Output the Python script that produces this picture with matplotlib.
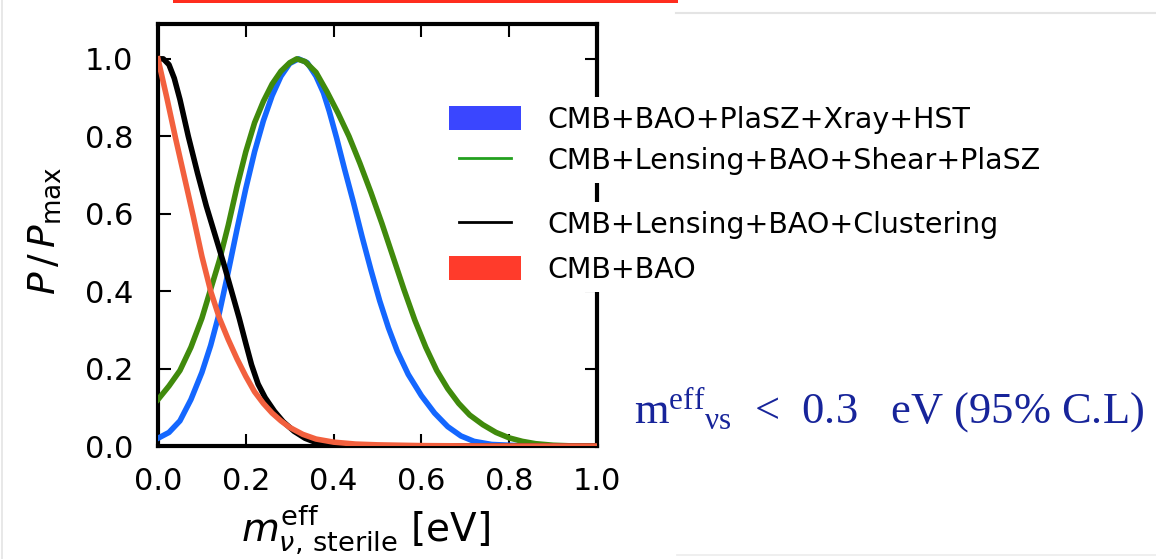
import matplotlib
matplotlib.use("Agg")
import matplotlib.pyplot as plt
from matplotlib.patches import Patch, Rectangle
from matplotlib.lines import Line2D
from matplotlib.legend_handler import HandlerLine2D

# ---------------- data ----------------
x_blue = [0.0, 0.025, 0.05, 0.075, 0.1, 0.12, 0.14, 0.16, 0.18, 0.2, 0.22, 0.24, 0.26, 0.28,
          0.3, 0.32, 0.34, 0.36, 0.377, 0.39, 0.407, 0.425, 0.445, 0.465, 0.485, 0.505, 0.525,
          0.545, 0.57, 0.6, 0.63, 0.66, 0.69, 0.72, 0.76, 0.82, 0.9, 1.0]
y_blue = [0.02, 0.035, 0.065, 0.12, 0.19, 0.26, 0.345, 0.45, 0.56, 0.665, 0.76, 0.84, 0.905,
          0.955, 0.988, 1.0, 0.99, 0.955, 0.912, 0.865, 0.795, 0.715, 0.63, 0.54, 0.455, 0.375,
          0.305, 0.245, 0.185, 0.13, 0.085, 0.05, 0.026, 0.012, 0.004, 0.001, 0.0, 0.0]

x_green = [0.0, 0.025, 0.05, 0.075, 0.1, 0.12, 0.14, 0.16, 0.18, 0.2, 0.22, 0.24, 0.26, 0.28,
           0.3, 0.316, 0.335, 0.36, 0.385, 0.41, 0.435, 0.46, 0.485, 0.51, 0.535, 0.56, 0.585,
           0.61, 0.635, 0.66, 0.685, 0.71, 0.74, 0.77, 0.8, 0.83, 0.86, 0.9, 0.95, 1.0]
y_green = [0.12, 0.155, 0.195, 0.255, 0.33, 0.405, 0.48, 0.57, 0.67, 0.76, 0.835, 0.89, 0.935,
           0.968, 0.99, 1.0, 0.993, 0.965, 0.915, 0.86, 0.80, 0.73, 0.655, 0.575, 0.49, 0.405,
           0.325, 0.255, 0.195, 0.148, 0.11, 0.08, 0.055, 0.035, 0.021, 0.012, 0.006, 0.002,
           0.0, 0.0]

x_black = [0.0, 0.012, 0.025, 0.037, 0.05, 0.069, 0.09, 0.11, 0.13, 0.15, 0.17, 0.185, 0.2,
           0.213, 0.228, 0.244, 0.265, 0.285, 0.31, 0.335, 0.36, 0.39, 0.45, 1.0]
y_black = [1.0, 1.0, 0.985, 0.95, 0.895, 0.80, 0.705, 0.62, 0.545, 0.47, 0.39, 0.33, 0.265,
           0.21, 0.16, 0.125, 0.09, 0.063, 0.038, 0.02, 0.009, 0.003, 0.0, 0.0]

x_red = [0.0, 0.02, 0.04, 0.06, 0.08, 0.1, 0.12, 0.14, 0.16, 0.18, 0.2, 0.22, 0.24, 0.26, 0.28,
         0.3, 0.33, 0.36, 0.4, 0.45, 0.5, 0.6, 0.75, 1.0]
y_red = [1.0, 0.9, 0.795, 0.695, 0.595, 0.49, 0.4, 0.33, 0.275, 0.225, 0.18, 0.14, 0.11, 0.085,
         0.065, 0.048, 0.03, 0.018, 0.01, 0.005, 0.003, 0.001, 0.0, 0.0]

labels = ["CMB+BAO+PlaSZ+Xray+HST",
          "CMB+Lensing+BAO+Shear+PlaSZ",
          "CMB+Lensing+BAO+Clustering",
          "CMB+BAO"]
curve_colors = ["#1467ff", "#408a0c", "#000000", "#f2603e"]
legend_colors = ["#3a46ff", "#22a01e", "#000000", "#ff3b2b"]

xticks = [0.0, 0.2, 0.4, 0.6, 0.8, 1.0]
yticks = [0.0, 0.2, 0.4, 0.6, 0.8, 1.0]

# ---------------- figure ----------------
W, H = 1156, 559
fig = plt.figure(figsize=(W / 100, H / 100), dpi=100)
fig.patch.set_facecolor("white")

plt.rcParams["mathtext.fontset"] = "dejavusans"
plt.rcParams["mathtext.rm"] = "Liberation Serif"
plt.rcParams["mathtext.it"] = "Liberation Serif:italic"
plt.rcParams["mathtext.bf"] = "Liberation Serif:bold"

ax_l, ax_r, ax_t, ax_b = 158, 597, 24, 446
ax = fig.add_axes([ax_l / W, (H - ax_b) / H, (ax_r - ax_l) / W, (ax_b - ax_t) / H])

ax.plot(x_blue, y_blue, color=curve_colors[0], lw=4, zorder=3)
ax.plot(x_green, y_green, color=curve_colors[1], lw=4, zorder=3)
ax.plot(x_black, y_black, color=curve_colors[2], lw=4, zorder=3)
ax.plot(x_red, y_red, color=curve_colors[3], lw=4, zorder=3)

ax.set_xlim(0, 1)
ax.set_ylim(0, 1.09)
ax.set_xticks(xticks)
ax.set_yticks(yticks)
ax.set_xticklabels([f"{v:.1f}" for v in xticks])
ax.set_yticklabels([f"{v:.1f}" for v in yticks])
for s in ax.spines.values():
    s.set_linewidth(3)
ax.tick_params(direction="in", top=True, right=True, length=9, width=1.5,
               labelsize=22, colors="black")
ax.tick_params(axis="x", pad=15)
ax.tick_params(axis="y", pad=18)

ax.set_xlabel(r"$m_{\nu,\,\mathregular{sterile}}^{\mathregular{eff}}$ [eV]", fontsize=28)
ax.set_ylabel(r"$P\,/\,P_{\mathregular{max}}$", fontsize=27)
ax.xaxis.set_label_coords((366 - ax_l) / (ax_r - ax_l), -(503 - ax_b) / (ax_b - ax_t))
ax.yaxis.set_label_coords(-(ax_l - 63) / (ax_r - ax_l), 0.51)

# legends (two blocks, white background hiding the right spine)
handles_a = [Patch(facecolor=legend_colors[0], edgecolor="none"),
             Line2D([], [], color=legend_colors[1], lw=2)]
handles_b = [Line2D([], [], color=legend_colors[2], lw=2),
             Patch(facecolor=legend_colors[3], edgecolor="none")]
hmap = {Line2D: HandlerLine2D(marker_pad=0.36, numpoints=2)}
common = dict(loc="upper left", bbox_transform=fig.transFigure, fontsize=20.5,
              frameon=True, facecolor="white", edgecolor="none", framealpha=1.0,
              fancybox=False, borderpad=0.3, handlelength=2.55, handleheight=0.92,
              handletextpad=0.92, borderaxespad=0, handler_map=hmap)
leg_a = ax.legend(handles_a, labels[:2], bbox_to_anchor=(440 / W, 1 - 97 / H),
                  labelspacing=0.46, **common)
ax.add_artist(leg_a)
leg_b = ax.legend(handles_b, labels[2:], bbox_to_anchor=(440 / W, 1 - 202 / H),
                  labelspacing=0.6, **common)

# annotation
fig.text(634 / W, 1 - 423 / H,
         r"m$^{\mathrm{eff}}{}_{\mathrm{\nu s}}$  <  0.3   eV (95% C.L)",
         fontsize=32, family="Liberation Serif", math_fontfamily="custom",
         color="#17249a", ha="left", va="baseline")

# slide decorations
fig.patches.append(Rectangle((173 / W, 1 - 3 / H), (678 - 173) / W, 3 / H,
                             transform=fig.transFigure, facecolor="#ff2d1e",
                             edgecolor="none"))
fig.lines.append(Line2D([676 / W, 1], [1 - 13 / H, 1 - 13 / H], transform=fig.transFigure,
                        color="#e4e4e4", lw=1.5))
fig.lines.append(Line2D([2 / W, 2 / W], [0, 1], transform=fig.transFigure,
                        color="#e4e4e4", lw=1.2))
fig.lines.append(Line2D([677 / W, 1], [1 - 555 / H, 1 - 555 / H], transform=fig.transFigure,
                        color="#ececec", lw=1.2))

fig.savefig("out.png", dpi=100, facecolor="white")
